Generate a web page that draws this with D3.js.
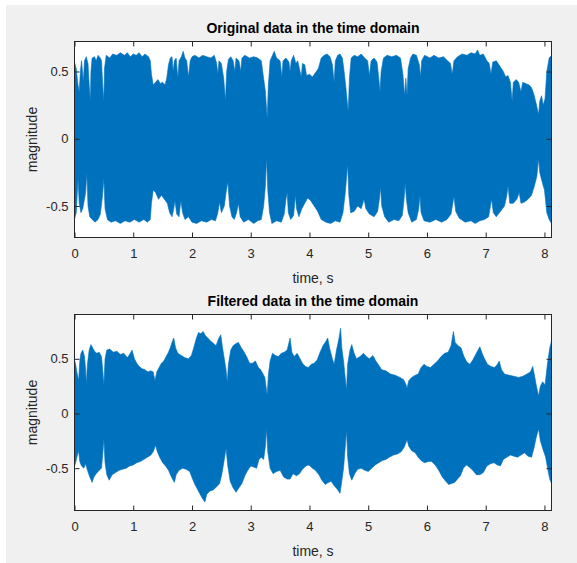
<!DOCTYPE html>
<html>
<head>
<meta charset="utf-8">
<script src="https://cdn.jsdelivr.net/npm/d3@7"></script>
<style>
  html, body { margin: 0; padding: 0; background: #fff; }
  svg { display: block; }
</style>
</head>
<body>
<div id="chart"></div>
<script>
// envelope of each signal as [time s, magnitude]
const origUpper = [
  [0.00, 0.57], [0.03, 0.52], [0.06, 0.40], [0.08, 0.35], [0.10, 0.50], [0.12, 0.58], [0.14, 0.48],
  [0.15, 0.42], [0.17, 0.58], [0.20, 0.61], [0.23, 0.56], [0.25, 0.40], [0.27, 0.28], [0.28, 0.50],
  [0.30, 0.60], [0.34, 0.61], [0.37, 0.58], [0.40, 0.62], [0.44, 0.60], [0.46, 0.58], [0.48, 0.40],
  [0.50, 0.28], [0.51, 0.52], [0.54, 0.62], [0.60, 0.60], [0.65, 0.63], [0.72, 0.62], [0.78, 0.64],
  [0.85, 0.62], [0.90, 0.64], [0.95, 0.61], [1.00, 0.63], [1.05, 0.62], [1.10, 0.64], [1.15, 0.61],
  [1.20, 0.63], [1.26, 0.61], [1.29, 0.58], [1.31, 0.48], [1.34, 0.40], [1.38, 0.42], [1.42, 0.44],
  [1.46, 0.41], [1.50, 0.42], [1.54, 0.40], [1.57, 0.45], [1.60, 0.55], [1.63, 0.60], [1.66, 0.61],
  [1.68, 0.50], [1.70, 0.58], [1.73, 0.60], [1.76, 0.45], [1.78, 0.58], [1.82, 0.61], [1.85, 0.65],
  [1.88, 0.60], [1.91, 0.58], [1.94, 0.46], [1.97, 0.58], [2.00, 0.61], [2.05, 0.62], [2.12, 0.60],
  [2.18, 0.62], [2.25, 0.61], [2.32, 0.60], [2.38, 0.62], [2.42, 0.56], [2.44, 0.48], [2.46, 0.58],
  [2.50, 0.56], [2.54, 0.45], [2.57, 0.28], [2.59, 0.50], [2.62, 0.59], [2.66, 0.61], [2.70, 0.58],
  [2.73, 0.50], [2.75, 0.60], [2.80, 0.58], [2.83, 0.50], [2.85, 0.60], [2.90, 0.62], [2.98, 0.60],
  [3.05, 0.61], [3.12, 0.60], [3.18, 0.58], [3.21, 0.48], [3.25, 0.35], [3.28, 0.15], [3.30, 0.40],
  [3.33, 0.58], [3.37, 0.62], [3.40, 0.65], [3.44, 0.60], [3.50, 0.58], [3.53, 0.46], [3.55, 0.58],
  [3.60, 0.60], [3.65, 0.57], [3.67, 0.50], [3.69, 0.58], [3.73, 0.62], [3.77, 0.56], [3.80, 0.58],
  [3.84, 0.50], [3.86, 0.46], [3.88, 0.56], [3.92, 0.55], [3.95, 0.47], [4.00, 0.48], [4.05, 0.46],
  [4.10, 0.49], [4.15, 0.52], [4.20, 0.60], [4.25, 0.62], [4.30, 0.63], [4.35, 0.61], [4.39, 0.55],
  [4.42, 0.42], [4.44, 0.58], [4.48, 0.62], [4.52, 0.63], [4.56, 0.60], [4.59, 0.50], [4.62, 0.38],
  [4.66, 0.20], [4.68, 0.45], [4.71, 0.60], [4.76, 0.62], [4.82, 0.61], [4.88, 0.63], [4.94, 0.60],
  [4.99, 0.58], [5.02, 0.47], [5.05, 0.58], [5.10, 0.60], [5.15, 0.57], [5.18, 0.45], [5.20, 0.35],
  [5.22, 0.50], [5.26, 0.60], [5.32, 0.62], [5.40, 0.61], [5.48, 0.62], [5.55, 0.60], [5.59, 0.48],
  [5.62, 0.32], [5.64, 0.45], [5.66, 0.32], [5.68, 0.52], [5.72, 0.60], [5.76, 0.63], [5.82, 0.62],
  [5.87, 0.55], [5.89, 0.46], [5.91, 0.58], [5.96, 0.62], [6.05, 0.60], [6.12, 0.62], [6.20, 0.60],
  [6.28, 0.61], [6.35, 0.58], [6.40, 0.56], [6.43, 0.48], [6.46, 0.58], [6.52, 0.61], [6.60, 0.63],
  [6.68, 0.62], [6.75, 0.64], [6.82, 0.63], [6.86, 0.66], [6.90, 0.62], [6.96, 0.63], [7.02, 0.58],
  [7.06, 0.56], [7.09, 0.48], [7.12, 0.57], [7.18, 0.58], [7.24, 0.54], [7.30, 0.50], [7.34, 0.46],
  [7.38, 0.47], [7.42, 0.42], [7.45, 0.28], [7.47, 0.42], [7.52, 0.44], [7.56, 0.42], [7.60, 0.35],
  [7.63, 0.42], [7.68, 0.41], [7.74, 0.40], [7.78, 0.38], [7.82, 0.33], [7.86, 0.26], [7.90, 0.18],
  [7.92, 0.28], [7.95, 0.32], [7.98, 0.25], [8.01, 0.30], [8.04, 0.50], [8.08, 0.60], [8.12, 0.62]
];
const origLower = [
  [0.00, -0.60], [0.03, -0.55], [0.05, -0.38], [0.06, -0.30], [0.08, -0.48], [0.11, -0.55], [0.14, -0.52],
  [0.17, -0.45], [0.19, -0.40], [0.21, -0.25], [0.23, -0.50], [0.26, -0.58], [0.30, -0.60], [0.35, -0.62],
  [0.40, -0.60], [0.44, -0.56], [0.47, -0.45], [0.50, -0.30], [0.52, -0.52], [0.56, -0.60], [0.62, -0.62],
  [0.70, -0.61], [0.78, -0.63], [0.86, -0.61], [0.94, -0.62], [1.02, -0.60], [1.10, -0.62], [1.18, -0.60],
  [1.24, -0.62], [1.29, -0.60], [1.31, -0.48], [1.34, -0.38], [1.38, -0.40], [1.43, -0.45], [1.48, -0.42],
  [1.53, -0.45], [1.58, -0.48], [1.62, -0.55], [1.66, -0.58], [1.69, -0.52], [1.71, -0.46], [1.74, -0.56],
  [1.78, -0.58], [1.81, -0.46], [1.84, -0.55], [1.88, -0.60], [1.94, -0.58], [2.00, -0.62], [2.08, -0.63],
  [2.16, -0.61], [2.25, -0.62], [2.33, -0.60], [2.40, -0.61], [2.44, -0.55], [2.47, -0.47], [2.50, -0.55],
  [2.55, -0.50], [2.58, -0.40], [2.61, -0.32], [2.64, -0.50], [2.68, -0.58], [2.72, -0.60], [2.76, -0.55],
  [2.79, -0.48], [2.82, -0.58], [2.88, -0.62], [2.96, -0.60], [3.05, -0.63], [3.12, -0.61], [3.18, -0.60],
  [3.22, -0.50], [3.25, -0.35], [3.27, -0.14], [3.29, -0.38], [3.32, -0.55], [3.36, -0.63], [3.44, -0.61],
  [3.52, -0.62], [3.57, -0.56], [3.60, -0.45], [3.62, -0.40], [3.64, -0.55], [3.68, -0.60], [3.73, -0.57],
  [3.76, -0.42], [3.78, -0.52], [3.82, -0.58], [3.87, -0.52], [3.92, -0.48], [3.97, -0.44], [4.02, -0.46],
  [4.08, -0.50], [4.14, -0.54], [4.20, -0.60], [4.28, -0.62], [4.36, -0.63], [4.44, -0.61], [4.52, -0.62],
  [4.57, -0.55], [4.61, -0.40], [4.65, -0.19], [4.67, -0.42], [4.70, -0.55], [4.76, -0.54], [4.82, -0.50],
  [4.88, -0.52], [4.93, -0.45], [4.96, -0.52], [5.02, -0.56], [5.10, -0.58], [5.16, -0.54], [5.19, -0.45],
  [5.21, -0.36], [5.23, -0.50], [5.28, -0.58], [5.35, -0.62], [5.44, -0.60], [5.52, -0.61], [5.58, -0.57],
  [5.61, -0.45], [5.63, -0.33], [5.65, -0.45], [5.68, -0.55], [5.74, -0.62], [5.82, -0.60], [5.86, -0.52],
  [5.88, -0.42], [5.90, -0.55], [5.95, -0.61], [6.05, -0.62], [6.15, -0.60], [6.25, -0.62], [6.34, -0.60],
  [6.41, -0.56], [6.44, -0.48], [6.46, -0.43], [6.49, -0.54], [6.55, -0.59], [6.65, -0.62], [6.75, -0.61],
  [6.82, -0.63], [6.90, -0.61], [6.98, -0.60], [7.05, -0.58], [7.08, -0.50], [7.10, -0.45], [7.13, -0.55],
  [7.18, -0.58], [7.25, -0.54], [7.32, -0.50], [7.36, -0.42], [7.38, -0.35], [7.41, -0.48], [7.47, -0.48],
  [7.53, -0.45], [7.57, -0.40], [7.60, -0.48], [7.66, -0.47], [7.72, -0.45], [7.78, -0.42], [7.83, -0.35],
  [7.87, -0.28], [7.90, -0.15], [7.92, -0.25], [7.96, -0.32], [8.00, -0.38], [8.04, -0.55], [8.08, -0.60],
  [8.12, -0.63]
];
const filtUpper = [
  [0.00, 0.49], [0.02, 0.45], [0.04, 0.38], [0.07, 0.30], [0.09, 0.48], [0.11, 0.55], [0.14, 0.58],
  [0.17, 0.52], [0.19, 0.40], [0.20, 0.26], [0.22, 0.45], [0.25, 0.58], [0.28, 0.63], [0.31, 0.60],
  [0.34, 0.57], [0.38, 0.55], [0.42, 0.56], [0.46, 0.52], [0.48, 0.40], [0.50, 0.26], [0.52, 0.50],
  [0.55, 0.58], [0.60, 0.59], [0.66, 0.56], [0.72, 0.57], [0.78, 0.54], [0.84, 0.55], [0.90, 0.51],
  [0.95, 0.55], [0.98, 0.58], [1.02, 0.50], [1.06, 0.46], [1.10, 0.43], [1.15, 0.41], [1.20, 0.40],
  [1.25, 0.38], [1.30, 0.39], [1.34, 0.38], [1.37, 0.30], [1.40, 0.38], [1.44, 0.42], [1.48, 0.46],
  [1.52, 0.48], [1.56, 0.52], [1.60, 0.56], [1.63, 0.60], [1.66, 0.65], [1.69, 0.69], [1.72, 0.60],
  [1.76, 0.55], [1.82, 0.53], [1.88, 0.51], [1.94, 0.50], [1.99, 0.53], [2.03, 0.60], [2.07, 0.68],
  [2.11, 0.74], [2.15, 0.73], [2.19, 0.75], [2.23, 0.71], [2.27, 0.69], [2.32, 0.66], [2.37, 0.64],
  [2.41, 0.62], [2.45, 0.68], [2.49, 0.72], [2.52, 0.60], [2.55, 0.50], [2.58, 0.40], [2.60, 0.28],
  [2.62, 0.45], [2.66, 0.58], [2.70, 0.62], [2.75, 0.64], [2.79, 0.65], [2.84, 0.60], [2.89, 0.56],
  [2.93, 0.52], [2.98, 0.46], [3.03, 0.46], [3.08, 0.48], [3.13, 0.42], [3.17, 0.40], [3.21, 0.36],
  [3.24, 0.33], [3.28, 0.17], [3.30, 0.35], [3.33, 0.48], [3.37, 0.55], [3.42, 0.53], [3.47, 0.52],
  [3.52, 0.55], [3.57, 0.56], [3.62, 0.58], [3.67, 0.69], [3.70, 0.56], [3.74, 0.52], [3.79, 0.55],
  [3.84, 0.50], [3.88, 0.46], [3.93, 0.43], [3.98, 0.42], [4.03, 0.45], [4.08, 0.46], [4.13, 0.49],
  [4.18, 0.56], [4.23, 0.62], [4.28, 0.66], [4.31, 0.69], [4.35, 0.58], [4.39, 0.50], [4.42, 0.45],
  [4.46, 0.58], [4.50, 0.68], [4.53, 0.78], [4.55, 0.60], [4.58, 0.48], [4.63, 0.21], [4.65, 0.45],
  [4.69, 0.58], [4.72, 0.63], [4.76, 0.55], [4.80, 0.50], [4.86, 0.52], [4.92, 0.55], [4.97, 0.52],
  [5.02, 0.50], [5.08, 0.53], [5.13, 0.48], [5.18, 0.44], [5.23, 0.40], [5.30, 0.39], [5.38, 0.36],
  [5.46, 0.35], [5.54, 0.33], [5.60, 0.31], [5.64, 0.27], [5.66, 0.23], [5.69, 0.30], [5.74, 0.33],
  [5.80, 0.35], [5.85, 0.36], [5.90, 0.42], [5.95, 0.45], [6.00, 0.43], [6.06, 0.42], [6.12, 0.45],
  [6.18, 0.48], [6.24, 0.52], [6.30, 0.55], [6.36, 0.56], [6.41, 0.62], [6.45, 0.75], [6.48, 0.65],
  [6.53, 0.62], [6.58, 0.60], [6.63, 0.52], [6.68, 0.47], [6.73, 0.45], [6.78, 0.49], [6.84, 0.55],
  [6.90, 0.61], [6.94, 0.55], [6.98, 0.50], [7.03, 0.45], [7.09, 0.43], [7.15, 0.42], [7.20, 0.45],
  [7.23, 0.48], [7.27, 0.40], [7.32, 0.36], [7.40, 0.35], [7.48, 0.34], [7.56, 0.33], [7.63, 0.34],
  [7.70, 0.36], [7.76, 0.38], [7.80, 0.43], [7.83, 0.35], [7.86, 0.26], [7.90, 0.16], [7.93, 0.25],
  [7.97, 0.29], [8.01, 0.26], [8.05, 0.45], [8.09, 0.60], [8.12, 0.66]
];
const filtLower = [
  [0.00, -0.48], [0.02, -0.45], [0.04, -0.40], [0.07, -0.34], [0.09, -0.44], [0.12, -0.48], [0.16, -0.50],
  [0.19, -0.46], [0.22, -0.52], [0.26, -0.58], [0.30, -0.63], [0.33, -0.58], [0.37, -0.55], [0.42, -0.52],
  [0.46, -0.50], [0.48, -0.38], [0.50, -0.23], [0.52, -0.45], [0.55, -0.56], [0.59, -0.61], [0.64, -0.56],
  [0.70, -0.54], [0.76, -0.52], [0.82, -0.51], [0.88, -0.50], [0.94, -0.48], [1.00, -0.47], [1.06, -0.45],
  [1.12, -0.44], [1.18, -0.42], [1.24, -0.40], [1.30, -0.38], [1.34, -0.35], [1.38, -0.29], [1.41, -0.35],
  [1.45, -0.40], [1.50, -0.45], [1.55, -0.48], [1.60, -0.52], [1.65, -0.58], [1.70, -0.63], [1.73, -0.56],
  [1.78, -0.52], [1.84, -0.50], [1.90, -0.51], [1.96, -0.53], [2.01, -0.60], [2.05, -0.65], [2.10, -0.70],
  [2.14, -0.74], [2.18, -0.78], [2.22, -0.81], [2.25, -0.74], [2.30, -0.71], [2.36, -0.70], [2.42, -0.67],
  [2.47, -0.64], [2.51, -0.55], [2.55, -0.42], [2.58, -0.32], [2.61, -0.48], [2.65, -0.62], [2.70, -0.68],
  [2.75, -0.72], [2.80, -0.68], [2.85, -0.64], [2.90, -0.57], [2.95, -0.52], [3.00, -0.48], [3.05, -0.49],
  [3.10, -0.50], [3.14, -0.42], [3.18, -0.40], [3.22, -0.42], [3.25, -0.30], [3.27, -0.14], [3.29, -0.35],
  [3.33, -0.50], [3.38, -0.55], [3.44, -0.53], [3.50, -0.52], [3.56, -0.58], [3.62, -0.60], [3.67, -0.60],
  [3.72, -0.55], [3.78, -0.57], [3.83, -0.55], [3.88, -0.51], [3.94, -0.48], [3.99, -0.47], [4.05, -0.50],
  [4.10, -0.52], [4.16, -0.56], [4.21, -0.61], [4.27, -0.65], [4.32, -0.63], [4.37, -0.62], [4.42, -0.66],
  [4.47, -0.69], [4.52, -0.73], [4.55, -0.62], [4.58, -0.50], [4.61, -0.30], [4.63, -0.15], [4.65, -0.40],
  [4.68, -0.55], [4.72, -0.61], [4.77, -0.55], [4.82, -0.51], [4.88, -0.50], [4.94, -0.52], [5.00, -0.53],
  [5.06, -0.50], [5.12, -0.47], [5.18, -0.45], [5.24, -0.43], [5.30, -0.42], [5.36, -0.40], [5.43, -0.38],
  [5.50, -0.37], [5.56, -0.35], [5.61, -0.31], [5.64, -0.27], [5.66, -0.24], [5.69, -0.30], [5.74, -0.34],
  [5.80, -0.36], [5.85, -0.40], [5.90, -0.43], [5.96, -0.45], [6.02, -0.44], [6.08, -0.44], [6.14, -0.47],
  [6.20, -0.52], [6.26, -0.58], [6.32, -0.62], [6.37, -0.65], [6.42, -0.64], [6.47, -0.63], [6.52, -0.60],
  [6.57, -0.57], [6.62, -0.50], [6.67, -0.47], [6.72, -0.49], [6.78, -0.52], [6.84, -0.56], [6.90, -0.56],
  [6.96, -0.54], [7.02, -0.48], [7.08, -0.46], [7.14, -0.45], [7.20, -0.47], [7.25, -0.48], [7.30, -0.42],
  [7.36, -0.40], [7.42, -0.38], [7.48, -0.39], [7.54, -0.40], [7.60, -0.38], [7.66, -0.36], [7.72, -0.39],
  [7.78, -0.40], [7.82, -0.32], [7.86, -0.22], [7.90, -0.14], [7.93, -0.25], [7.97, -0.32], [8.02, -0.40],
  [8.06, -0.52], [8.09, -0.60], [8.12, -0.64]
];

const timeTicks = [0, 1, 2, 3, 4, 5, 6, 7, 8];
const magTicks = [-0.5, 0, 0.5];
const timeRange = [0, 8.12];
const origRange = [-0.734, 0.723];
const filtRange = [-0.887, 0.905];

const width = 577;
const height = 563;
const axisColor = '#262626';
const lineColor = '#0072BD';
const font = '"Liberation Sans", Arial, sans-serif';
const tickLen = 5;

const svg = d3.select('#chart')
  .append('svg')
  .attr('width', width)
  .attr('height', height);

svg.append('rect')
  .attr('x', 6)
  .attr('y', 5)
  .attr('width', width - 6)
  .attr('height', height - 5)
  .attr('fill', '#f0f0f0');

const drawPanel = (opts) => {
  const { top, bottom, yDomain, upper, lower, title, id } = opts;
  const left = 74.5;
  const right = 551.5;

  const x = d3.scaleLinear().domain(timeRange).range([left, right]);
  const y = d3.scaleLinear().domain(yDomain).range([bottom, top]);

  const g = svg.append('g');

  g.append('rect')
    .attr('x', left)
    .attr('y', top)
    .attr('width', right - left)
    .attr('height', bottom - top)
    .attr('fill', '#fff');

  g.append('clipPath')
    .attr('id', id)
    .append('rect')
    .attr('x', left)
    .attr('y', top)
    .attr('width', right - left)
    .attr('height', bottom - top);

  // upper edge forward, lower edge back, closed
  const outline = upper.concat(lower.slice().reverse());
  const line = d3.line()
    .x(d => x(d[0]))
    .y(d => y(d[1]));

  g.append('path')
    .attr('clip-path', `url(#${id})`)
    .attr('d', line(outline) + 'Z')
    .attr('fill', lineColor)
    .attr('stroke', lineColor)
    .attr('stroke-width', 0.6)
    .attr('stroke-linejoin', 'miter');

  const xAxis = d3.axisBottom(x)
    .tickValues(timeTicks)
    .tickSize(tickLen)
    .tickSizeOuter(0)
    .tickFormat(d3.format('d'));

  const yAxis = d3.axisLeft(y)
    .tickValues(magTicks)
    .tickSize(tickLen)
    .tickSizeOuter(0)
    .tickFormat(d => d === 0 ? '0' : d3.format('.1f')(d).replace('\u2212', '-'));

  const styleAxis = sel => {
    sel.select('.domain').remove();
    sel.selectAll('line').attr('stroke', axisColor);
    sel.selectAll('text')
      .attr('fill', axisColor)
      .style('font-family', font)
      .style('font-size', '13px');
  };

  // ticks point inward, labels stay outside
  const xg = g.append('g')
    .attr('transform', `translate(0,${bottom})`)
    .call(xAxis)
    .call(styleAxis);
  xg.selectAll('.tick line').attr('y2', -tickLen);
  xg.selectAll('.tick text').attr('y', 11);

  g.append('g')
    .attr('transform', `translate(0,${top})`)
    .call(d3.axisTop(x).tickValues(timeTicks).tickSize(-tickLen).tickSizeOuter(0).tickFormat(''))
    .call(styleAxis);

  const yg = g.append('g')
    .attr('transform', `translate(${left},0)`)
    .call(yAxis)
    .call(styleAxis);
  yg.selectAll('.tick line').attr('x2', tickLen);
  yg.selectAll('.tick text').attr('x', -6);

  g.append('g')
    .attr('transform', `translate(${right},0)`)
    .call(d3.axisRight(y).tickValues(magTicks).tickSize(-tickLen).tickSizeOuter(0).tickFormat(''))
    .call(styleAxis);

  g.append('rect')
    .attr('x', left)
    .attr('y', top)
    .attr('width', right - left)
    .attr('height', bottom - top)
    .attr('fill', 'none')
    .attr('stroke', axisColor)
    .attr('stroke-width', 1)
    .attr('shape-rendering', 'crispEdges');

  g.append('text')
    .attr('x', (left + right) / 2)
    .attr('y', top - 9)
    .attr('text-anchor', 'middle')
    .attr('fill', '#000')
    .style('font-family', font)
    .style('font-weight', 'bold')
    .style('font-size', '14px')
    .text(title);

  g.append('text')
    .attr('x', (left + right) / 2)
    .attr('y', bottom + 45)
    .attr('text-anchor', 'middle')
    .attr('fill', axisColor)
    .style('font-family', font)
    .style('font-size', '14px')
    .text('time, s');

  g.append('text')
    .attr('transform', `translate(37,${(top + bottom) / 2}) rotate(-90)`)
    .attr('text-anchor', 'middle')
    .attr('fill', axisColor)
    .style('font-family', font)
    .style('font-size', '14px')
    .text('magnitude');
};

drawPanel({
  id: 'clip-orig',
  top: 41.5,
  bottom: 237.5,
  yDomain: origRange,
  upper: origUpper,
  lower: origLower,
  title: 'Original data in the time domain'
});

drawPanel({
  id: 'clip-filt',
  top: 314.5,
  bottom: 510.5,
  yDomain: filtRange,
  upper: filtUpper,
  lower: filtLower,
  title: 'Filtered data in the time domain'
});
</script>
</body>
</html>
